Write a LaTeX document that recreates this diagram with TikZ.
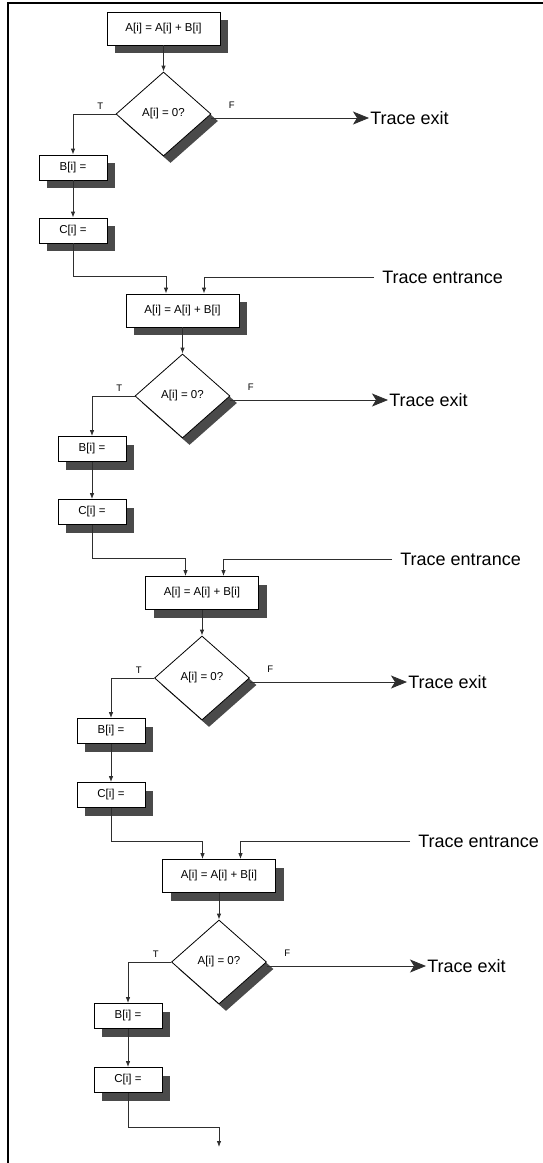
\documentclass[tikz,border=0pt]{standalone}
\usepackage{fontspec}
\setmainfont{Liberation Sans}
\usetikzlibrary{arrows.meta, positioning, shapes.geometric, shadows}
\definecolor{cshadow}{HTML}{4A4A4A}
\definecolor{cline}{HTML}{2E2E2E}
\tikzset{
  every picture/.style={line width=0.8pt},
  stmt/.style={draw=black, fill=white, minimum width=113pt, minimum height=33pt, inner sep=0pt, font=\fontsize{11.5}{13}\selectfont, drop shadow={shadow xshift=8pt, shadow yshift=-8pt, fill=cshadow, opacity=1}},
  assign/.style={stmt, minimum width=68pt, minimum height=25pt},
  test/.style={diamond, draw=black, fill=white, minimum width=95pt, minimum height=84pt, inner sep=0pt, font=\fontsize{11.5}{13}\selectfont, drop shadow={shadow xshift=7pt, shadow yshift=-7pt, fill=cshadow, opacity=1}},
  link/.style={-{Latex[length=6pt, width=4.5pt]}, draw=cline},
  exit/.style={-{Stealth[length=16pt, width=13pt, inset=4pt]}, draw=cline},
  flag/.style={font=\fontsize{9.5}{11}\selectfont, inner sep=0pt},
  trace/.style={font=\fontsize{18}{21}\selectfont, inner sep=1pt, anchor=west},
  frame/.style={line width=2pt},
}

\begin{document}
\begin{tikzpicture}[x=1pt, y=-1pt]
  \useasboundingbox (0,0) rectangle (543,1163);
  \draw[frame] (543,3) -- (8,3) -- (8,1163);

  \node[stmt] (a1) at (163.5,28.5) {A[i] = A[i] + B[i]};
  \node[test] (d1) at (163.5,114) {A[i] = 0?};
  \node[assign] (b1) at (73,167.5) {B[i] =};
  \node[assign] (c1) at (73,230.5) {C[i] =};
  \node[flag, above left=4pt and 12pt of d1.west] (t1) {T};
  \node[flag, above right=5pt and 17pt of d1.east] (f1) {F};
  \node[trace] (x1) at (369,118) {Trace exit};
  \draw[link] (a1) -- (d1);
  \draw[link] (d1.west) -| (b1);
  \draw[link] (b1) -- (c1);
  \draw[exit] ([yshift=-4pt]d1.east) -- (x1.west);

  \node[stmt] (a2) at (182.5,310.5) {A[i] = A[i] + B[i]};
  \node[test] (d2) at (182.5,396) {A[i] = 0?};
  \node[assign] (b2) at (92,449) {B[i] =};
  \node[assign] (c2) at (92,512) {C[i] =};
  \node[flag, above left=4pt and 12pt of d2.west] (t2) {T};
  \node[flag, above right=5pt and 17pt of d2.east] (f2) {F};
  \node[trace] (x2) at (388,400) {Trace exit};
  \node[trace, inner xsep=8pt] (e2) at (374,277) {Trace entrance};
  \draw[link] (c1.south) -- ++(0,33) -| ([xshift=-16.5pt]a2.north);
  \draw[link] (e2.west) -| ([xshift=21.5pt]a2.north);
  \draw[link] (a2) -- (d2);
  \draw[link] (d2.west) -| (b2);
  \draw[link] (b2) -- (c2);
  \draw[exit] ([yshift=-4pt]d2.east) -- (x2.west);

  \node[stmt] (a3) at (202,593) {A[i] = A[i] + B[i]};
  \node[test] (d3) at (202,678) {A[i] = 0?};
  \node[assign] (b3) at (111,731) {B[i] =};
  \node[assign] (c3) at (111,795) {C[i] =};
  \node[flag, above left=4pt and 12pt of d3.west] (t3) {T};
  \node[flag, above right=5pt and 17pt of d3.east] (f3) {F};
  \node[trace] (x3) at (407,682) {Trace exit};
  \node[trace, inner xsep=8pt] (e3) at (392,559) {Trace entrance};
  \draw[link] (c2.south) -- ++(0,33) -| ([xshift=-16.5pt]a3.north);
  \draw[link] (e3.west) -| ([xshift=21.5pt]a3.north);
  \draw[link] (a3) -- (d3);
  \draw[link] (d3.west) -| (b3);
  \draw[link] (b3) -- (c3);
  \draw[exit] ([yshift=-4pt]d3.east) -- (x3.west);

  \node[stmt] (a4) at (219,876) {A[i] = A[i] + B[i]};
  \node[test] (d4) at (219,962) {A[i] = 0?};
  \node[assign] (b4) at (128,1016) {B[i] =};
  \node[assign] (c4) at (128,1080) {C[i] =};
  \node[flag, above left=4pt and 12pt of d4.west] (t4) {T};
  \node[flag, above right=5pt and 17pt of d4.east] (f4) {F};
  \node[trace] (x4) at (426,966) {Trace exit};
  \node[trace, inner xsep=8pt] (e4) at (410,841) {Trace entrance};
  \draw[link] (c3.south) -- ++(0,33) -| ([xshift=-16.5pt]a4.north);
  \draw[link] (e4.west) -| ([xshift=21.5pt]a4.north);
  \draw[link] (a4) -- (d4);
  \draw[link] (d4.west) -| (b4);
  \draw[link] (b4) -- (c4);
  \draw[exit] ([yshift=-4pt]d4.east) -- (x4.west);

  \coordinate (out) at (219,1147);
  \draw[link] (c4.south) -- ++(0,34) -| (out);
\end{tikzpicture}
\end{document}
